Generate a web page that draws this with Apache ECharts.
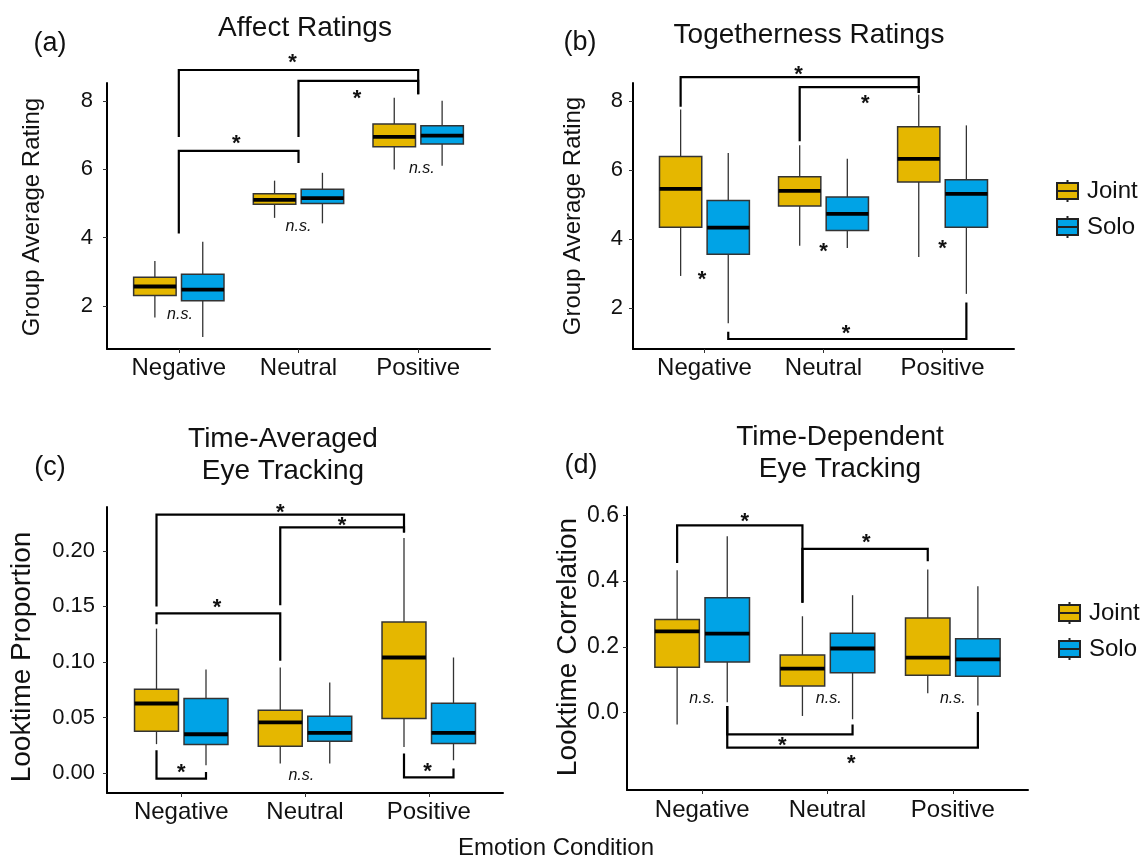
<!DOCTYPE html>
<html lang="en">
<head>
  <meta charset="UTF-8">
  <title>Emotion condition box plots</title>
  <style>
    html, body { margin: 0; padding: 0; background: #fff; }
    #main { width: 1143px; height: 858px; }
  </style>
</head>
<body>
  <div id="main"></div>
  <script src="https://cdn.jsdelivr.net/npm/echarts@6/dist/echarts.min.js"></script>
  <script>
    const categories = ['Negative', 'Neutral', 'Positive'];

    // box stats per condition: [low whisker, q1, median, q3, high whisker]
    const affectJoint = [[1.66, 2.31, 2.57, 2.84, 3.32], [4.58, 4.98, 5.11, 5.29, 5.67], [6.00, 6.66, 6.95, 7.33, 8.10]];
    const affectSolo = [[1.09, 2.15, 2.48, 2.93, 3.88], [4.42, 5.00, 5.16, 5.42, 5.90], [6.11, 6.74, 6.99, 7.28, 8.01]];
    const togetherJoint = [[2.93, 4.34, 5.46, 6.40, 7.76], [3.81, 4.96, 5.40, 5.81, 6.72], [3.48, 5.66, 6.33, 7.26, 8.19]];
    const togetherSolo = [[1.56, 3.56, 4.33, 5.12, 6.50], [3.74, 4.25, 4.73, 5.22, 6.33], [2.41, 4.34, 5.31, 5.72, 7.30]];
    const lookPropJoint = [[0.026, 0.0376, 0.0626, 0.0753, 0.130], [0.0085, 0.0241, 0.0455, 0.0566, 0.095], [0.0235, 0.049, 0.104, 0.136, 0.2115]];
    const lookPropSolo = [[0.0069, 0.0256, 0.0349, 0.0671, 0.0933], [0.0085, 0.0286, 0.0361, 0.0512, 0.0816], [0.0115, 0.0265, 0.0361, 0.0629, 0.104]];
    const lookCorrJoint = [[-0.036, 0.138, 0.247, 0.283, 0.433], [-0.010, 0.081, 0.134, 0.175, 0.293], [0.059, 0.114, 0.167, 0.288, 0.435]];
    const lookCorrSolo = [[0.032, 0.154, 0.240, 0.349, 0.536], [-0.020, 0.121, 0.195, 0.241, 0.357], [0.022, 0.111, 0.162, 0.225, 0.384]];

    const ratingTicks = [2, 4, 6, 8];
    const propTicks = [0, 0.05, 0.10, 0.15, 0.20];
    const corrTicks = [0, 0.2, 0.4, 0.6];

    // significance brackets: [x from, x to, bar y, end y at from, end y at to]
    const affectBrackets = [[1, 3, 8.91, 6.95, 8.2], [2, 3, 8.59, 6.95, 8.2], [1, 2, 6.54, 4.12, 6.19]];
    const togetherBrackets = [[0.8, 2.8, 8.70, 7.84, 8.24], [1.8, 2.8, 8.41, 6.84, 8.24], [1.2, 3.2, 1.10, 1.31, 2.16]];
    const lookPropBrackets = [[0.8, 2.8, 0.2326, 0.150, 0.2166], [1.8, 2.8, 0.2211, 0.151, 0.2166], [0.8, 1.8, 0.1438, 0.134, 0.101],
                              [0.8, 1.2, -0.005, 0.0205, 0.001], [2.8, 3.2, -0.004, 0.0175, 0.004]];
    const lookCorrBrackets = [[0.8, 1.8, 0.569, 0.455, 0.334], [1.8, 2.8, 0.498, 0.334, 0.46], [1.2, 2.2, -0.066, 0.020, -0.036],
                              [1.2, 3.2, -0.106, 0.020, 0.002]];

    // annotation spots [x, y]
    const affectStars = [[1.95, 9.26], [2.49, 8.21], [1.48, 6.88]];
    const affectNs = [[1.01, 1.74], [2.0, 4.32], [3.03, 6.03]];
    const togetherStars = [[1.79, 8.92], [2.35, 8.08], [2.19, 1.38], [0.98, 2.96], [2.0, 3.78], [3.0, 3.85]];
    const togetherNs = [];
    const lookPropStars = [[1.80, 0.2386], [2.30, 0.2272], [1.29, 0.1529], [1.0, 0.0045], [2.99, 0.0054]];
    const lookPropNs = [[1.97, -0.002]];
    const lookCorrStars = [[1.34, 0.594], [2.31, 0.531], [1.64, -0.086], [2.19, -0.142]];
    const lookCorrNs = [[1.0, 0.042], [2.01, 0.042], [3.0, 0.042]];

    const FONT = '"Liberation Sans", Arial, sans-serif';
    const JOINT = '#E5B700';
    const SOLO = '#00A3E6';
    const BOX_W = 0.355;
    const DODGE = 0.2;

    const panels = [
      { joint: affectJoint, solo: affectSolo, brackets: affectBrackets, stars: affectStars, ns: affectNs,
        grid: { left: 107, top: 83, width: 383, height: 266 }, yMin: 0.74, yMax: 8.53, ticks: ratingTicks, digits: 0,
        tickFont: 22, yMargin: 14, xMargin: 7 },
      { joint: togetherJoint, solo: togetherSolo, brackets: togetherBrackets, stars: togetherStars, ns: togetherNs,
        grid: { left: 633, top: 83, width: 381, height: 266 }, yMin: 0.81, yMax: 8.53, ticks: ratingTicks, digits: 0,
        tickFont: 22, yMargin: 10, xMargin: 7 },
      { joint: lookPropJoint, solo: lookPropSolo, brackets: lookPropBrackets, stars: lookPropStars, ns: lookPropNs,
        grid: { left: 107, top: 507, width: 396, height: 286 }, yMin: -0.018, yMax: 0.2395, ticks: propTicks, digits: 2,
        tickFont: 22, yMargin: 12, xMargin: 7 },
      { joint: lookCorrJoint, solo: lookCorrSolo, brackets: lookCorrBrackets, stars: lookCorrStars, ns: lookCorrNs,
        grid: { left: 627, top: 507, width: 401, height: 283 }, yMin: -0.235, yMax: 0.625, ticks: corrTicks, digits: 1,
        tickFont: 23, yMargin: 8, xMargin: 8 }
    ];

    function boxRenderer(offset, color) {
      return function (params, api) {
        const x = api.value(0) + offset;
        const lo = api.coord([x, api.value(1)]);
        const q1 = api.coord([x, api.value(2)]);
        const med = api.coord([x, api.value(3)]);
        const q3 = api.coord([x, api.value(4)]);
        const hi = api.coord([x, api.value(5)]);
        const half = api.size([BOX_W, 0])[0] / 2;
        const cx = lo[0];
        const whisker = { stroke: '#333', lineWidth: 1.3 };
        return {
          type: 'group',
          children: [
            { type: 'line', shape: { x1: cx, y1: hi[1], x2: cx, y2: q3[1] }, style: whisker },
            { type: 'line', shape: { x1: cx, y1: q1[1], x2: cx, y2: lo[1] }, style: whisker },
            { type: 'rect', shape: { x: cx - half, y: q3[1], width: half * 2, height: q1[1] - q3[1] },
              style: { fill: color, stroke: '#333', lineWidth: 1.5 } },
            { type: 'line', shape: { x1: cx - half, y1: med[1], x2: cx + half, y2: med[1] },
              style: { stroke: '#000', lineWidth: 3.8 } }
          ]
        };
      };
    }

    function bracketRender(params, api) {
      const a = api.coord([api.value(0), api.value(3)]);
      const b = api.coord([api.value(0), api.value(2)]);
      const c = api.coord([api.value(1), api.value(2)]);
      const d = api.coord([api.value(1), api.value(4)]);
      return {
        type: 'polyline',
        shape: { points: [a, b, c, d] },
        style: { stroke: '#000', lineWidth: 2.2, fill: null }
      };
    }

    function textRenderer(text, size, italic, bold, dy) {
      return function (params, api) {
        const p = api.coord([api.value(0), api.value(1)]);
        return {
          type: 'text',
          x: p[0], y: p[1] + dy,
          style: { text: text, fontSize: size, fontFamily: FONT, fontStyle: italic ? 'italic' : 'normal',
                   fontWeight: bold ? 'bold' : 'normal',
                   fill: '#111', align: 'center', verticalAlign: 'middle' }
        };
      };
    }

    const grids = [], xAxes = [], yAxes = [], series = [];
    panels.forEach(function (p, i) {
      grids.push(p.grid);
      xAxes.push({
        type: 'value', gridIndex: i, min: 0.4, max: 3.6,
        axisLine: { show: true, onZero: false, lineStyle: { color: '#000', width: 2 } },
        axisTick: { show: true, customValues: [1, 2, 3], length: 4, lineStyle: { color: '#333' } },
        axisLabel: { customValues: [1, 2, 3], formatter: v => categories[Math.round(v) - 1],
                     fontSize: 24, fontFamily: FONT, color: '#111', margin: p.xMargin },
        splitLine: { show: false }
      });
      yAxes.push({
        type: 'value', gridIndex: i, min: p.yMin, max: p.yMax,
        axisLine: { show: true, onZero: false, lineStyle: { color: '#000', width: 2 } },
        axisTick: { show: true, customValues: p.ticks, length: 4, lineStyle: { color: '#333' } },
        axisLabel: { customValues: p.ticks, formatter: v => v.toFixed(p.digits),
                     fontSize: p.tickFont, fontFamily: FONT, color: '#111', margin: p.yMargin },
        splitLine: { show: false }
      });
      const axisRef = { xAxisIndex: i, yAxisIndex: i };
      series.push(Object.assign({
        type: 'custom', name: 'Joint', renderItem: boxRenderer(-DODGE, JOINT),
        itemStyle: { color: JOINT },
        encode: { x: 0, y: [1, 2, 3, 4, 5] },
        data: p.joint.map((s, k) => [k + 1].concat(s))
      }, axisRef));
      series.push(Object.assign({
        type: 'custom', name: 'Solo', renderItem: boxRenderer(DODGE, SOLO),
        itemStyle: { color: SOLO },
        encode: { x: 0, y: [1, 2, 3, 4, 5] },
        data: p.solo.map((s, k) => [k + 1].concat(s))
      }, axisRef));
      series.push(Object.assign({
        type: 'custom', name: 'brackets' + i, renderItem: bracketRender, silent: true,
        encode: { x: [0, 1], y: [2, 3, 4] }, data: p.brackets
      }, axisRef));
      series.push(Object.assign({
        type: 'custom', name: 'stars' + i, renderItem: textRenderer('*', 22, false, true, 5), silent: true,
        encode: { x: 0, y: 1 }, data: p.stars
      }, axisRef));
      series.push(Object.assign({
        type: 'custom', name: 'ns' + i, renderItem: textRenderer('n.s.', 16, true, false, 0), silent: true,
        encode: { x: 0, y: 1 }, data: p.ns
      }, axisRef));
    });

    const legendIcon = 'path://M0 3 H21 V19 H0 Z M0 11 H21 M10.5 0 V3 M10.5 19 V22';
    function legendFor(left, top) {
      return {
        orient: 'vertical', left: left, top: top, padding: 0, itemWidth: 21, itemHeight: 22, itemGap: 12,
        textStyle: { fontSize: 24, fontFamily: FONT, color: '#111', padding: [0, 0, 0, 4] },
        data: [
          { name: 'Joint', icon: legendIcon, itemStyle: { color: JOINT, borderColor: '#222', borderWidth: 2 } },
          { name: 'Solo', icon: legendIcon, itemStyle: { color: SOLO, borderColor: '#222', borderWidth: 2 } }
        ]
      };
    }

    function titleAt(text, x, top, size) {
      return { text: text, left: x, top: top, textAlign: 'center',
               textStyle: { fontSize: size, fontWeight: 'normal', fontFamily: FONT, color: '#111', lineHeight: 32 } };
    }

    function sideName(text, x, y, size) {
      return { type: 'text', x: x, y: y, rotation: Math.PI / 2,
               style: { text: text, fontSize: size, fontFamily: FONT, fill: '#111', align: 'center', verticalAlign: 'middle' } };
    }

    const option = {
      animation: false,
      backgroundColor: '#fff',
      title: [
        titleAt('(a)', 45, 23, 27),
        titleAt('Affect Ratings', 300, 7, 28),
        titleAt('(b)', 575, 22, 27),
        titleAt('Togetherness Ratings', 804, 14, 28),
        titleAt('(c)', 45, 447, 27),
        titleAt('Time-Averaged\nEye Tracking', 278, 418, 28),
        titleAt('(d)', 576, 445, 27),
        titleAt('Time-Dependent\nEye Tracking', 835, 416, 28)
      ],
      legend: [legendFor(1056, 179), legendFor(1058, 601)],
      graphic: [
        sideName('Group Average Rating', 32, 217, 24),
        sideName('Group Average Rating', 573, 216, 24),
        sideName('Looktime Proportion', 22, 657, 28),
        sideName('Looktime Correlation', 568, 647, 28),
        { type: 'text', x: 556, y: 848,
          style: { text: 'Emotion Condition', fontSize: 24, fontFamily: FONT, fill: '#111', align: 'center', verticalAlign: 'middle' } }
      ],
      grid: grids,
      xAxis: xAxes,
      yAxis: yAxes,
      series: series
    };

    const myChart = echarts.init(document.getElementById('main'));
    myChart.setOption(option);
  </script>
</body>
</html>
